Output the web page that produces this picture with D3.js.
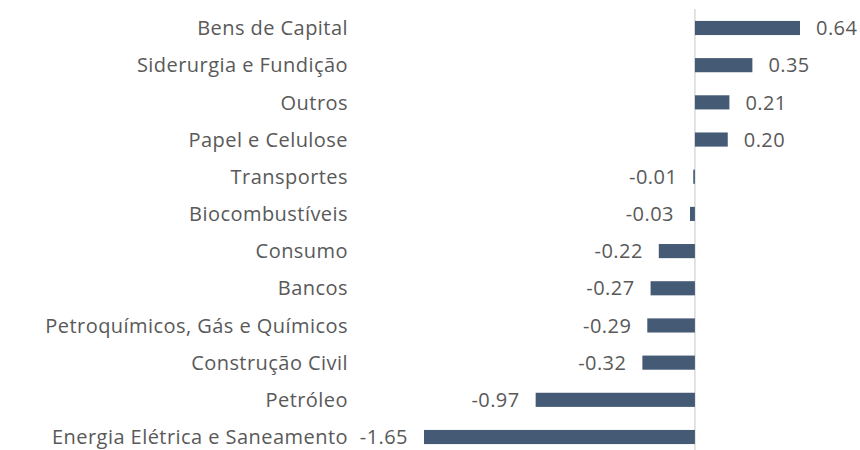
<!DOCTYPE html>
<html>
<head>
<meta charset="utf-8">
<script src="https://cdn.jsdelivr.net/npm/d3@7"></script>
<style>
  body { margin: 0; background: #fff; }
  text { font-family: "Open Sans", "Noto Sans", sans-serif; fill: #595959; letter-spacing: 0.45px; }
</style>
</head>
<body>
<div id="chart"></div>
<script>
const categories = [
  "Bens de Capital", "Siderurgia e Fundição", "Outros", "Papel e Celulose",
  "Transportes", "Biocombustíveis", "Consumo", "Bancos",
  "Petroquímicos, Gás e Químicos", "Construção Civil", "Petróleo",
  "Energia Elétrica e Saneamento"
];
const values = [0.64, 0.35, 0.21, 0.20, -0.01, -0.03, -0.22, -0.27, -0.29, -0.32, -0.97, -1.65];

const width = 860, height = 450;
const fmt = d => d.toFixed(2);

const svg = d3.select("#chart").append("svg")
  .attr("width", width)
  .attr("height", height);

const x = d3.scaleLinear()
  .domain([d3.min(values), d3.max(values)])
  .range([424, 800]);

const y = d3.scaleBand()
  .domain(categories)
  .range([9.4, 455.6])
  .paddingInner(0.62)
  .paddingOuter(0.31);

// Zero line
svg.append("line")
  .attr("x1", x(0)).attr("x2", x(0))
  .attr("y1", 9).attr("y2", height)
  .attr("stroke", "#d9d9d9")
  .attr("stroke-width", 1.5);

// Bars
svg.selectAll("rect.bar")
  .data(values)
  .enter().append("rect")
  .attr("class", "bar")
  .attr("x", d => x(Math.min(0, d)))
  .attr("y", (d, i) => y(categories[i]))
  .attr("width", d => Math.abs(x(d) - x(0)))
  .attr("height", y.bandwidth())
  .attr("fill", "#445a75");

// Value labels
svg.selectAll("text.val")
  .data(values)
  .enter().append("text")
  .attr("class", "val")
  .attr("x", d => d >= 0 ? x(d) + 16 : x(d) - 16)
  .attr("y", (d, i) => y(categories[i]) + y.bandwidth() / 2)
  .attr("dy", "0.36em")
  .attr("text-anchor", d => d >= 0 ? "start" : "end")
  .style("font-size", "20px")
  .text(d => fmt(d));

// Category labels
svg.selectAll("text.cat")
  .data(categories)
  .enter().append("text")
  .attr("class", "cat")
  .attr("x", 348)
  .attr("y", d => y(d) + y.bandwidth() / 2)
  .attr("dy", "0.36em")
  .attr("text-anchor", "end")
  .style("font-size", "20px")
  .text(d => d);
</script>
</body>
</html>
